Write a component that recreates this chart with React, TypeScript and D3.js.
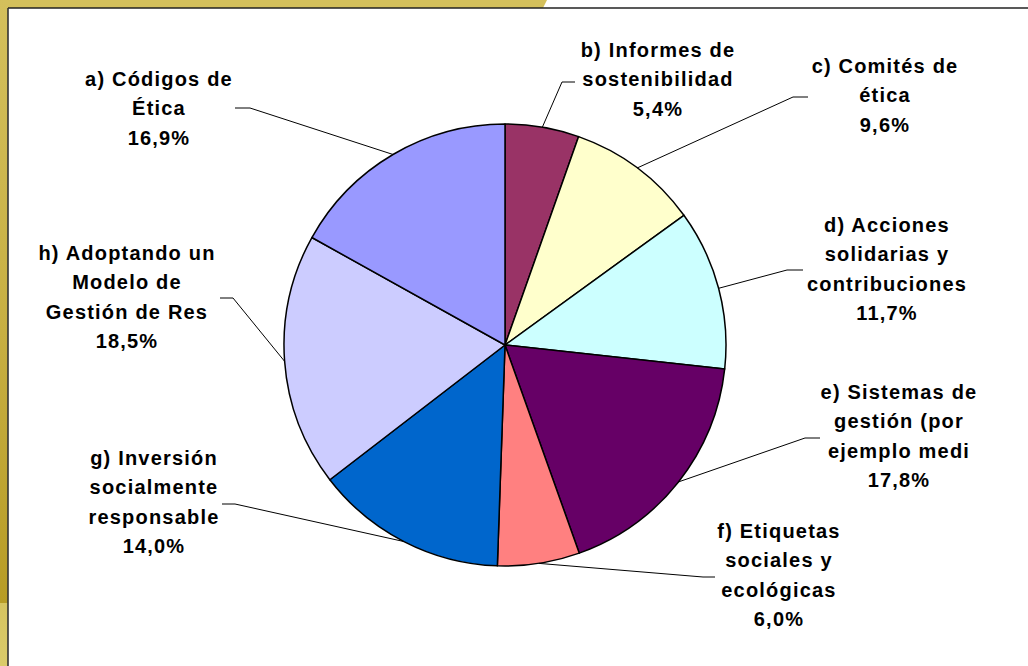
import React from "react";
import * as d3 from "d3";

const categories = [
  "b) Informes de sostenibilidad",
  "c) Comités de ética",
  "d) Acciones solidarias y contribuciones",
  "e) Sistemas de gestión (por ejemplo medi",
  "f) Etiquetas sociales y ecológicas",
  "g) Inversión socialmente responsable",
  "h) Adoptando un Modelo de Gestión de Res",
  "a) Códigos de Ética",
];
const values = [5.4, 9.6, 11.7, 17.8, 6.0, 14.0, 18.5, 16.9];
const labelLines = [
  ["b) Informes de", "sostenibilidad"],
  ["c) Comités de", "ética"],
  ["d) Acciones", "solidarias y", "contribuciones"],
  ["e) Sistemas de", "gestión (por", "ejemplo medi"],
  ["f) Etiquetas", "sociales y", "ecológicas"],
  ["g) Inversión", "socialmente", "responsable"],
  ["h) Adoptando un", "Modelo de", "Gestión de Res"],
  ["a) Códigos de", "Ética"],
];
const colors = ["#993366", "#FFFFCC", "#CCFFFF", "#660066", "#FF8080", "#0066CC", "#CCCCFF", "#9999FF"];

// label layout: text centre x, first baseline y, elbow point, end point
const layout = [
  { cx: 658, y: 57, elbow: [562, 82], end: [575, 82] },
  { cx: 885, y: 73, elbow: [793, 97], end: [808, 97] },
  { cx: 887, y: 232, elbow: [787, 270], end: [803, 270] },
  { cx: 899, y: 399, elbow: [805, 438], end: [820, 438] },
  { cx: 779, y: 538, elbow: [703, 577], end: [715, 577] },
  { cx: 154, y: 465, elbow: [235, 504], end: [222, 504] },
  { cx: 127, y: 260, elbow: [233, 298], end: [220, 298] },
  { cx: 159, y: 86, elbow: [250, 108], end: [235, 108] },
];

const W = 1028;
const H = 666;
const CX = 505;
const CY = 345;
const R = 221;
const LH = 29.3;

export default function App() {
  const pie = d3.pie<number>().sort(null).value((d) => d);
  const arcs = pie(values);
  const arc = d3.arc<d3.PieArcDatum<number>>().innerRadius(0).outerRadius(R);
  const fmt = (v: number) => v.toFixed(1).replace(".", ",") + "%";

  return (
    <svg
      width={W}
      height={H}
      style={{ position: "fixed", left: 0, top: 0, display: "block" }}
      fontFamily="'Liberation Sans', Arial, sans-serif"
    >
      <defs>
        <linearGradient id="leftg" x1="0" y1="0" x2="0" y2="1">
          <stop offset="0" stopColor="#d4c05c" />
          <stop offset="0.5" stopColor="#c7af42" />
          <stop offset="0.905" stopColor="#b79c25" />
          <stop offset="0.906" stopColor="#d6c460" />
          <stop offset="1" stopColor="#dacb6a" />
        </linearGradient>
      </defs>
      <rect x={0} y={0} width={W} height={H} fill="#ffffff" />
      <polygon points="0,0 547,0 543,8 0,8" fill="#d4c05c" />
      <rect x={0} y={0} width={8} height={H} fill="url(#leftg)" />
      <line x1={8} y1={8} x2={W} y2={8} stroke="#222" strokeWidth={1.6} />
      <line x1={8} y1={8} x2={8} y2={H} stroke="#333" strokeWidth={1.6} />

      <g transform={`translate(${CX},${CY})`}>
        {arcs.map((a, i) => (
          <path key={i} d={arc(a) || ""} fill={colors[i]} stroke="#000" strokeWidth={1.5} strokeLinejoin="round" />
        ))}
      </g>

      {arcs.map((a, i) => {
        const mid = (a.startAngle + a.endAngle) / 2;
        const ex = CX + R * Math.sin(mid);
        const ey = CY - R * Math.cos(mid);
        const L = layout[i];
        return (
          <polyline
            key={"l" + i}
            points={`${ex},${ey} ${L.elbow[0]},${L.elbow[1]} ${L.end[0]},${L.end[1]}`}
            fill="none"
            stroke="#000"
            strokeWidth={1}
          />
        );
      })}

      {arcs.map((a, i) => {
        const L = layout[i];
        const lines = [...labelLines[i], fmt(values[i])];
        return (
          <text
            key={"t" + i}
            x={L.cx}
            y={L.y}
            textAnchor="middle"
            fontSize={20}
            fontWeight="bold"
            letterSpacing={1.2}
            fill="#000"
          >
            {lines.map((ln, j) => (
              <tspan key={j} x={L.cx} y={L.y + j * LH}>
                {ln}
              </tspan>
            ))}
          </text>
        );
      })}
    </svg>
  );
}
